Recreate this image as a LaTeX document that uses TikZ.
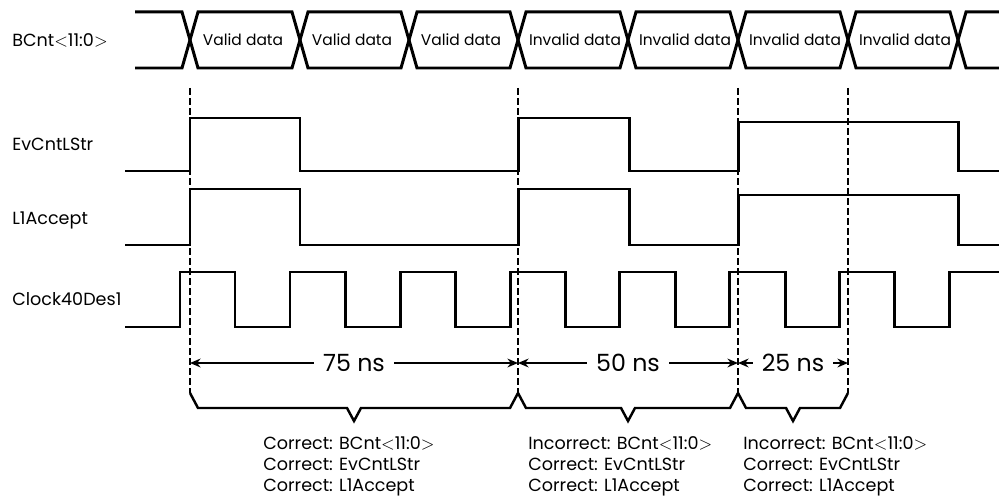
\documentclass[tikz,border=0pt]{standalone}
\usepackage{fontspec}
\setmainfont{Poppins}
\usetikzlibrary{arrows.meta}
\tikzset{
  sig/.style={line width=1.7pt},
  marker/.style={line width=1.5pt,dash pattern=on 4pt off 1.7pt},
  span/.style={line width=1.2pt,{Stealth[length=6pt,width=5pt]}-{Stealth[length=6pt,width=5pt]}},
  brace/.style={line width=1.4pt},
  lbl/.style={anchor=west,inner sep=0pt,font=\fontsize{10}{12}\selectfont},
  buslbl/.style={inner sep=0pt,font=\fontsize{8.8}{10}\selectfont},
  spanlbl/.style={fill=white,inner xsep=5pt,inner ysep=1pt,font=\fontsize{13.5}{15}\selectfont},
  note/.style={anchor=north west,align=left,inner sep=0pt,font=\fontsize{10}{11.9}\selectfont},
}
\newcommand{\busname}{BCnt$<$11:0$>$}
\begin{document}
\begin{tikzpicture}[x=0.02cm,y=-0.02cm]
\useasboundingbox (0,0) rectangle (999,499);
% signal names
\node[lbl] (bcnt) at (12,40) {\busname};
\node[lbl] (evcnt) at (12,144) {EvCntLStr};
\node[lbl] (lacc) at (12,220) {L1Accept};
\node[lbl] (clk) at (12,299) {Clock40Des1};
% marker lines
\coordinate (t1) at (190,88);  \coordinate (b1) at (190,393);
\coordinate (t2) at (518,88);  \coordinate (b2) at (518,393);
\coordinate (t3) at (738,88);  \coordinate (b3) at (738,393);
\coordinate (t4) at (848,88);  \coordinate (b4) at (848,393);
\draw[marker] (t1) -- (b1);
\draw[marker] (t2) -- (b2);
\draw[marker] (t3) -- (b3);
\draw[marker] (t4) -- (b4);
% bus
\draw[sig] (135,12) -- (182,12) -- (198,68) -- (292,68) -- (308,12) -- (401,12) -- (417,68) -- (510,68) -- (526,12) -- (620,12) -- (636,68) -- (730,68) -- (746,12) -- (840,12) -- (856,68) -- (950,68) -- (966,12) -- (999,12);
\draw[sig] (135,68) -- (182,68) -- (198,12) -- (292,12) -- (308,68) -- (401,68) -- (417,12) -- (510,12) -- (526,68) -- (620,68) -- (636,12) -- (730,12) -- (746,68) -- (840,68) -- (856,12) -- (950,12) -- (966,68) -- (999,68);
\node[buslbl] (v1) at (243,40) {Valid data};
\node[buslbl] (v2) at (352,40) {Valid data};
\node[buslbl] (v3) at (461,40) {Valid data};
\node[buslbl] (i1) at (575,40) {Invalid data};
\node[buslbl] (i2) at (685,40) {Invalid data};
\node[buslbl] (i3) at (795,40) {Invalid data};
\node[buslbl] (i4) at (905,40) {Invalid data};
% strobes
\draw[sig] (125,171) -- (190,171) -- (190,118) -- (300,118) -- (300,171) -- (518,171) -- (518,118) -- (629,118) -- (629,171) -- (738,171) -- (738,122) -- (958,122) -- (958,171) -- (999,171);
\draw[sig] (125,245) -- (190,245) -- (190,189) -- (300,189) -- (300,245) -- (518,245) -- (518,189) -- (629,189) -- (629,245) -- (738,245) -- (738,195) -- (958,195) -- (958,245) -- (999,245);
% clock
\draw[sig] (125,327) -- (180,327) -- (180,272) -- (235,272) -- (235,327) -- (290,327) -- (290,272) -- (345,272) -- (345,327) -- (400,327) -- (400,272) -- (455,272) -- (455,327) -- (510,327) -- (510,272) -- (565,272) -- (565,327) -- (619,327) -- (619,272) -- (675,272) -- (675,327) -- (729,327) -- (729,272) -- (785,272) -- (785,327) -- (839,327) -- (839,272) -- (894,272) -- (894,327) -- (949,327) -- (949,272) -- (999,272);
% spans
\coordinate (d1) at (190,363);
\coordinate (d2) at (518,363);
\coordinate (d3) at (738,363);
\coordinate (d4) at (848,363);
\draw[span] (d1) -- node[spanlbl] (ns75) {75 ns} (d2);
\draw[span] (d2) -- node[spanlbl] (ns50) {50 ns} (d3);
\draw[span] (d3) -- node[spanlbl] (ns25) {25 ns} (d4);
% braces
\draw[brace] (b1) -- (198,408) -- (347,408) -- (354,421) -- (361,408) -- (510,408) -- (b2);
\draw[brace] (b2) -- (526,408) -- (621,408) -- (628,421) -- (635,408) -- (730,408) -- (b3);
\draw[brace] (b3) -- (746,408) -- (786,408) -- (793,421) -- (800,408) -- (840,408) -- (b4);
% verdicts
\node[note] (ok1) at (263,436) {Correct: \busname\\Correct: EvCntLStr\\Correct: L1Accept};
\node[note] (bad2) at (528,436) {Incorrect: \busname\\Correct: EvCntLStr\\Correct: L1Accept};
\node[note] (bad3) at (743,436) {Incorrect: \busname\\Correct: EvCntLStr\\Correct: L1Accept};
\end{tikzpicture}
\end{document}
